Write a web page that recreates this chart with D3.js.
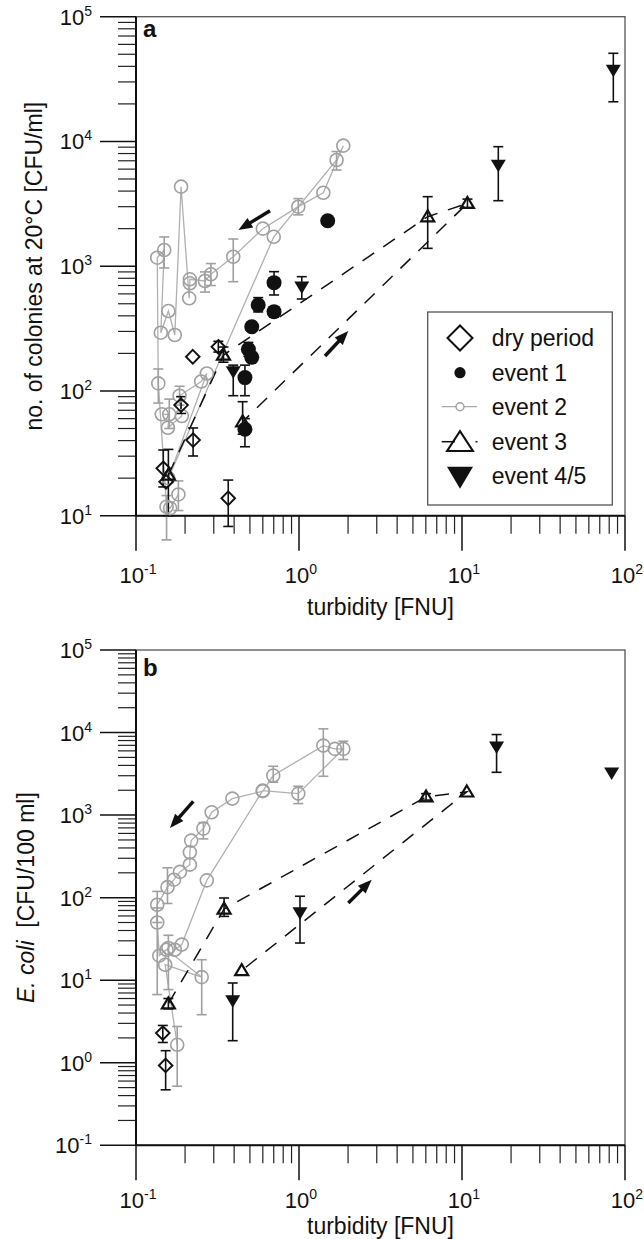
<!DOCTYPE html>
<html><head><meta charset="utf-8">
<script src="https://cdn.jsdelivr.net/npm/d3@7"></script>
<style>body{margin:0;background:#fff} svg{display:block} text{font-family:"Liberation Sans",Arial,sans-serif;fill:#111}</style>
</head><body><svg id="c" width="644" height="1239"></svg>
<script>
// ---------- data ----------
const xTickVals = [0.1, 1, 10, 100];
const xTickExp = ["-1", "0", "1", "2"];
const yTickValsA = [10, 100, 1000, 10000, 100000];
const yTickExpA = ["1", "2", "3", "4", "5"];
const yTickValsB = [0.1, 1, 10, 100, 1000, 10000, 100000];
const yTickExpB = ["-1", "0", "1", "2", "3", "4", "5"];
const legendLabels = ["dry period", "event 1", "event 2", "event 3", "event 4/5"];

// [turbidity, value, errLow, errHigh]
const dryA = [[0.32,226,205,250],[0.223,188,null,null],[0.189,77,66,90],[0.224,40.4,30.1,50.5],[0.147,24,17,33.6],[0.153,18.7,null,null],[0.368,13.8,8.2,19.3]];
const ev1A = [[0.703,738,588,904],[0.562,489,430,560],[0.703,432,390,470],[0.513,327,null,null],[0.489,216,190,245],[0.513,186,null,null],[0.466,128,91.6,161],[0.466,49.3,35.7,60],[1.50,2316,null,null]];
const ev2A = [[0.144,65,null,null],[0.16,65,50,86],[0.157,50.7,null,null],[0.191,63,null,null],[0.185,91.6,77,109],[0.251,119,null,null],[0.272,138,null,null],[0.158,20,null,null],[0.70,1720,null,null],[1.70,7100,5900,8300],[1.87,9250,null,null],[1.41,3880,null,null],[0.99,3000,2580,3480],[0.60,2000,null,null],[0.395,1190,751,1652],[0.288,861,700,1050],[0.265,761,620,900],[0.214,785,null,null],[0.214,729,null,null],[0.212,553,null,null],[0.189,4340,null,null],[0.173,281,null,null],[0.158,437,null,null],[0.142,293,null,null],[0.149,1349,968,1715],[0.135,1170,null,null],[0.137,115,80,150],[0.154,11.8,6.4,14.5],[0.162,11.5,null,null],[0.182,14.8,11,19]];
const ev3A = [[0.158,21.2,10,34],[0.344,194,170,225],[6.16,2494,1390,3608],[10.8,3192,2950,3450],[0.451,56.7,45,82]];
const ev45A = [[1.04,685,546,824],[0.395,143,91.6,161],[16.7,6477,3350,9078],[84.8,37400,20800,50900]];
const arrowsA = [[0.664,2786,0.425,1950],[1.444,190.6,2.007,302]];

const dryB = [[0.146,2.29,1.76,2.83],[0.152,0.927,0.47,1.40]];
const ev2B = [[0.173,23.4,null,null],[0.191,27,null,null],[0.272,162,null,null],[0.599,1981,null,null],[0.99,1822,1378,2234],[1.87,6340,4710,7850],[1.66,6340,null,null],[1.41,6950,2953,11090],[0.695,3013,2500,3905],[0.60,1950,null,null],[0.39,1585,null,null],[0.291,1081,null,null],[0.259,686,515,811],[0.218,491,null,null],[0.214,354,null,null],[0.214,251,null,null],[0.186,205,null,null],[0.171,165,null,null],[0.156,134,85,230],[0.135,82,50,119],[0.135,50,6.7,75],[0.139,19.8,null,null],[0.158,24.6,7.7,35],[0.154,23.4,null,null],[0.253,10.9,3.82,17.7],[0.151,15.4,null,null],[0.179,1.65,0.52,2.75]];
const ev3B = [[0.158,5.19,4.5,6.0],[0.347,72.9,59.3,99],[6.02,1663,1520,1820],[10.7,1910,null,null],[0.445,13.1,null,null]];
const ev45B = [[1.014,66.3,28.2,104],[0.392,5.69,1.85,9.25],[16.3,6710,3300,9460],[82.8,3250,null,null]];
const arrowsB = [[0.2246,1469,0.1616,700],[2.007,86.3,2.793,165]];

// ---------- drawing ----------
const svg = d3.select("#c");
const GRAY = "#a0a0a0";
const x = d3.scaleLog().domain([0.1, 100]).range([136, 625]);
const yA = d3.scaleLog().domain([10, 1e5]).range([515.7, 16.7]);
const yB = d3.scaleLog().domain([0.1, 1e5]).range([1145.3, 650]);

function supLabel(g, px, py, exp, anchor) {
  const t = g.append("text").attr("x", px).attr("y", py).attr("font-size", 22).attr("text-anchor", anchor);
  t.append("tspan").text("10");
  t.append("tspan").attr("dy", -9).attr("font-size", 14).text(exp);
}

function axes(y, yVals, yExp, o) {
  const g = svg.append("g");
  const [yBot, yTop] = y.range();
  g.append("rect").attr("x", 136).attr("y", yTop).attr("width", 489).attr("height", yBot - yTop)
    .attr("fill", "none").attr("stroke", "#555").attr("stroke-width", 1.3);
  for (let i = 0; i < yVals.length - 1; i++) {
    for (let k = 2; k <= 9; k++) {
      const v = yVals[i] * k;
      g.append("line").attr("x1", 118).attr("x2", 136).attr("y1", y(v)).attr("y2", y(v)).attr("stroke", "#222").attr("stroke-width", 1.2);
    }
  }
  yVals.forEach((v, i) => {
    g.append("line").attr("x1", 100).attr("x2", 136).attr("y1", y(v)).attr("y2", y(v)).attr("stroke", "#111").attr("stroke-width", 1.5);
    supLabel(g, 92, y(v) + 8, yExp[i], "end");
  });
  for (let i = 0; i < xTickVals.length - 1; i++) {
    for (let k = 2; k <= 9; k++) {
      const v = xTickVals[i] * k;
      g.append("line").attr("x1", x(v)).attr("x2", x(v)).attr("y1", yBot).attr("y2", yBot + 18).attr("stroke", "#222").attr("stroke-width", 1.2);
    }
  }
  xTickVals.forEach((v, i) => {
    g.append("line").attr("x1", x(v)).attr("x2", x(v)).attr("y1", yBot).attr("y2", yBot + 35).attr("stroke", "#111").attr("stroke-width", 1.5);
    supLabel(g, x(v) + 2, o.xLabY, xTickExp[i], "middle");
  });
  g.append("line").attr("x1", 136).attr("x2", 136).attr("y1", yTop).attr("y2", yBot).attr("stroke", "#111").attr("stroke-width", 2);
  g.append("line").attr("x1", 136).attr("x2", 625).attr("y1", yBot).attr("y2", yBot).attr("stroke", "#111").attr("stroke-width", 2);
  g.append("text").attr("x", 380.5).attr("y", o.xTitleY).attr("font-size", 23).attr("text-anchor", "middle").text("turbidity [FNU]");
  g.append("text").attr("x", 143).attr("y", o.letterY).attr("font-size", 24).attr("font-weight", "bold").text(o.letter);
  const yt = g.append("text").attr("transform", `translate(${o.yTitleX},${(yTop + yBot) / 2}) rotate(-90)`)
    .attr("font-size", 23).attr("text-anchor", "middle");
  o.yTitle(yt);
}

function errBars(g, data, y, color) {
  data.filter(d => d[2] != null).forEach(d => {
    const px = x(d[0]), y1 = y(d[2]), y2 = y(d[3]);
    g.append("line").attr("x1", px).attr("x2", px).attr("y1", y1).attr("y2", y2).attr("stroke", color).attr("stroke-width", 1.6);
    [y1, y2].forEach(yy => g.append("line").attr("x1", px - 5).attr("x2", px + 5).attr("y1", yy).attr("y2", yy).attr("stroke", color).attr("stroke-width", 1.6));
  });
}

const diamondPath = r => `M0,${-r}L${r},0L0,${r}L${-r},0Z`;
const triUp = (w, h) => `M0,${-h * 0.58}L${w / 2},${h * 0.42}L${-w / 2},${h * 0.42}Z`;
const triDown = (w, h) => `M${-w / 2},${-h * 0.42}L${w / 2},${-h * 0.42}L0,${h * 0.58}Z`;

function arrow(g, a, y) {
  const x1 = x(a[0]), y1 = y(a[1]), x2 = x(a[2]), y2 = y(a[3]);
  const dx = x2 - x1, dy = y2 - y1, L = Math.hypot(dx, dy), ux = dx / L, uy = dy / L;
  const hl = 14, hw = 5.5;
  g.append("line").attr("x1", x1).attr("y1", y1).attr("x2", x2 - ux * hl * 0.8).attr("y2", y2 - uy * hl * 0.8)
    .attr("stroke", "#111").attr("stroke-width", 3.4);
  const bx = x2 - ux * hl, by = y2 - uy * hl;
  g.append("path").attr("d", `M${x2},${y2}L${bx - uy * hw},${by + ux * hw}L${bx + uy * hw},${by - ux * hw}Z`).attr("fill", "#111");
}

function panel(y, s) {
  const g = svg.append("g");
  const line = d3.line().x(d => x(d[0])).y(d => y(d[1]));
  g.append("path").attr("d", line(s.ev2)).attr("fill", "none").attr("stroke", "#b0b0b0").attr("stroke-width", 1.3);
  g.append("path").attr("d", line(s.ev3)).attr("fill", "none").attr("stroke", "#111").attr("stroke-width", 1.5).attr("stroke-dasharray", "14,11");
  errBars(g, s.ev2, y, GRAY);
  errBars(g, s.dry, y, "#111");
  if (s.ev1) errBars(g, s.ev1, y, "#111");
  errBars(g, s.ev3, y, "#111");
  errBars(g, s.ev45, y, "#111");
  g.selectAll(null).data(s.ev2).join("circle").attr("cx", d => x(d[0])).attr("cy", d => y(d[1])).attr("r", 6.5)
    .attr("fill", "none").attr("stroke", GRAY).attr("stroke-width", 1.6);
  g.selectAll(null).data(s.dry).join("path").attr("d", diamondPath(6.8)).attr("transform", d => `translate(${x(d[0])},${y(d[1])})`)
    .attr("fill", "none").attr("stroke", "#111").attr("stroke-width", 1.9);
  if (s.ev1) g.selectAll(null).data(s.ev1).join("circle").attr("cx", d => x(d[0])).attr("cy", d => y(d[1])).attr("r", 7.5).attr("fill", "#111");
  g.selectAll(null).data(s.ev3).join("path").attr("d", triUp(13, 11)).attr("transform", d => `translate(${x(d[0])},${y(d[1])})`)
    .attr("fill", "none").attr("stroke", "#111").attr("stroke-width", 2.2);
  g.selectAll(null).data(s.ev45).join("path").attr("d", triDown(15, 12.5)).attr("transform", d => `translate(${x(d[0])},${y(d[1])})`)
    .attr("fill", "#111");
  s.arrows.forEach(a => arrow(g, a, y));
}

axes(yA, yTickValsA, yTickExpA, {
  xLabY: 583, xTitleY: 615, letter: "a", letterY: 37, yTitleX: 42,
  yTitle: t => t.text("no. of colonies at 20°C [CFU/ml]")
});
axes(yB, yTickValsB, yTickExpB, {
  xLabY: 1208, xTitleY: 1234, letter: "b", letterY: 676, yTitleX: 34,
  yTitle: t => { t.append("tspan").attr("font-style", "italic").text("E. coli"); t.append("tspan").text("\u00a0 [CFU/100 ml]"); }
});
panel(yA, { dry: dryA, ev1: ev1A, ev2: ev2A, ev3: ev3A, ev45: ev45A, arrows: arrowsA });
panel(yB, { dry: dryB, ev1: null, ev2: ev2B, ev3: ev3B, ev45: ev45B, arrows: arrowsB });

// legend (panel a)
const lg = svg.append("g");
lg.append("rect").attr("x", 427.7).attr("y", 312).attr("width", 184.6).attr("height", 193).attr("fill", "#fff").attr("stroke", "#555").attr("stroke-width", 1.3);
const rows = [338, 372.7, 406.7, 441.7, 476];
const sx = 460;
lg.append("path").attr("d", diamondPath(12.5)).attr("transform", `translate(${sx},${rows[0]})`).attr("fill", "none").attr("stroke", "#111").attr("stroke-width", 2);
lg.append("circle").attr("cx", sx).attr("cy", rows[1]).attr("r", 5.6).attr("fill", "#111");
lg.append("line").attr("x1", 441.7).attr("x2", 477).attr("y1", rows[2]).attr("y2", rows[2]).attr("stroke", "#aaa").attr("stroke-width", 1.3);
lg.append("circle").attr("cx", sx).attr("cy", rows[2]).attr("r", 4).attr("fill", "#fff").attr("stroke", GRAY).attr("stroke-width", 1.4);
lg.append("line").attr("x1", 441.7).attr("x2", 455).attr("y1", rows[3]).attr("y2", rows[3]).attr("stroke", "#111").attr("stroke-width", 1.5);
lg.append("line").attr("x1", 475.5).attr("x2", 477.5).attr("y1", rows[3]).attr("y2", rows[3]).attr("stroke", "#111").attr("stroke-width", 1.5);
lg.append("path").attr("d", triUp(26, 20)).attr("transform", `translate(${sx},${rows[3] + 1})`).attr("fill", "none").attr("stroke", "#111").attr("stroke-width", 2);
lg.append("path").attr("d", triDown(26, 22)).attr("transform", `translate(${sx},${rows[4]})`).attr("fill", "#111");
legendLabels.forEach((t, i) => lg.append("text").attr("x", 491.7).attr("y", rows[i] + 8).attr("font-size", 23).text(t));
</script></body></html>
